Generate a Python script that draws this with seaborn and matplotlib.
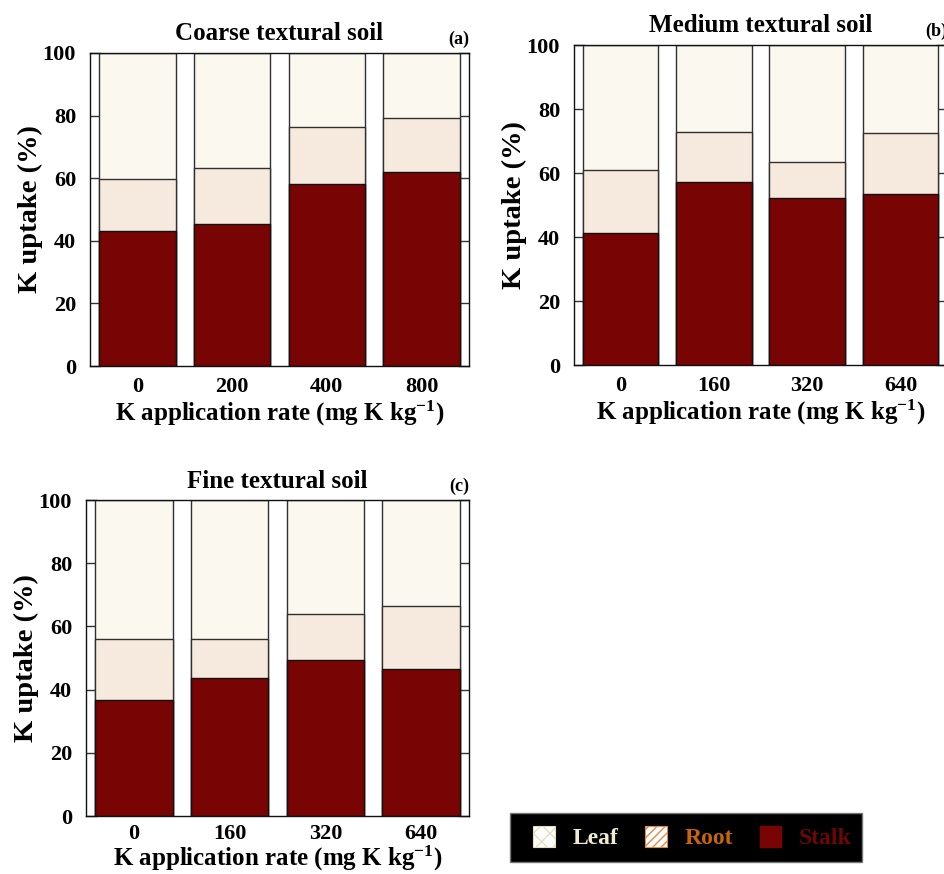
import matplotlib
matplotlib.use("Agg")
import matplotlib.pyplot as plt
from matplotlib.patches import Patch, Rectangle
import numpy as np
import pandas as pd
import seaborn as sns

# K uptake partitioning (%) among plant parts
rates_coarse = ["0", "200", "400", "800"]
stalk_coarse = [43.0, 45.5, 58.0, 62.0]
root_coarse = [16.7, 17.6, 18.4, 17.1]

rates_medium = ["0", "160", "320", "640"]
stalk_medium = [41.3, 57.3, 52.2, 53.4]
root_medium = [19.5, 15.5, 11.1, 19.1]

rates_fine = ["0", "160", "320", "640"]
stalk_fine = [36.7, 43.6, 49.5, 46.5]
root_fine = [19.3, 12.4, 14.5, 20.0]

panel_titles = ["Coarse textural soil", "Medium textural soil", "Fine textural soil"]
panel_tags = ["(a)", "(b)", "(c)"]
part_names = ["Leaf", "Root", "Stalk"]

sns.set_theme(style="white")
plt.rcParams["font.family"] = ["Liberation Serif", "DejaVu Serif"]
plt.rcParams["font.weight"] = "bold"
plt.rcParams["axes.labelweight"] = "bold"
plt.rcParams["axes.titleweight"] = "bold"
plt.rcParams["axes.unicode_minus"] = False
plt.rcParams["mathtext.fontset"] = "custom"
plt.rcParams["mathtext.rm"] = "Liberation Serif:bold"
plt.rcParams["mathtext.bf"] = "Liberation Serif:bold"
plt.rcParams["mathtext.default"] = "bf"
for key in ["text.color", "axes.labelcolor", "xtick.color", "ytick.color"]:
    plt.rcParams[key] = "black"

STALK = "#780404"
ROOT = "#f6eade"
LEAF = "#fbf8ef"

fig = plt.figure(figsize=(9.44, 8.74), dpi=100)
W, H = 944, 874


def px_axes(left, right, top, bottom):
    return fig.add_axes([left / W, (H - bottom) / H, (right - left) / W, (bottom - top) / H])


boxes = [(90, 469, 53, 366), (574, 947, 45, 365), (86, 469, 500, 816)]
datasets = [
    (rates_coarse, stalk_coarse, root_coarse),
    (rates_medium, stalk_medium, root_medium),
    (rates_fine, stalk_fine, root_fine),
]
xpads = [8, 8, 6]
xlabelpads = [1, 1, 0]

for box, (rates, stalk, root), title, tag, xp, xlp in zip(
        boxes, datasets, panel_titles, panel_tags, xpads, xlabelpads):
    ax = px_axes(*box)
    stalk = np.asarray(stalk)
    root = np.asarray(root)
    leaf = 100.0 - stalk - root
    df = pd.DataFrame({
        "rate": rates,
        "leaf_top": stalk + root + leaf,
        "root_top": stalk + root,
        "stalk_top": stalk,
    })
    layers = [("leaf_top", LEAF, "#303030"), ("root_top", ROOT, "#303030"), ("stalk_top", STALK, "#111111")]
    for col, color, edge in layers:
        sns.barplot(data=df, x="rate", y=col, color=color, saturation=1, width=0.81,
                    edgecolor=edge, linewidth=1.0, ax=ax, order=rates, errorbar=None)
    ax.set_xlim(-0.5, 3.5)
    ax.set_ylim(0, 100)
    ax.set_yticks([0, 20, 40, 60, 80, 100])
    ax.tick_params(axis="y", direction="in", length=8, width=1, color="#333333",
                   left=True, right=True, labelsize=16, pad=10)
    ax.tick_params(axis="x", length=0, labelsize=16, pad=xp)
    for lab in ax.get_xticklabels() + ax.get_yticklabels():
        lab.set_fontweight("bold")
    for sp in ax.spines.values():
        sp.set_visible(True)
        sp.set_color("#111111")
        sp.set_linewidth(1.0)
    ax.set_xlabel("K application rate (mg K kg$^{-1}$)", fontsize=18, labelpad=xlp)
    ax.set_ylabel("K uptake (%)", fontsize=20.5, labelpad=0)
    ax.set_title(title, fontsize=18, fontweight="bold", pad=9)
    ax.text(1.0, 1.015, tag, transform=ax.transAxes, ha="right", va="bottom",
            fontsize=13, fontweight="bold")
    ax.grid(False)

# Legend on a black panel
fig.patches.append(Rectangle((510 / W, (H - 862) / H), 352 / W, 49 / H,
                             transform=fig.transFigure, facecolor="black",
                             edgecolor="#777777", linewidth=1.0, zorder=0))
handles = [
    Patch(facecolor="white", edgecolor="#e6dcc2", hatch="xx", linewidth=0.8, label=part_names[0]),
    Patch(facecolor="white", edgecolor="#e08a4a", hatch="////", linewidth=0.8, label=part_names[1]),
    Patch(facecolor=STALK, edgecolor=STALK, label=part_names[2]),
]
leg = fig.legend(handles=handles, loc="center", ncol=3,
                 bbox_to_anchor=(692.5 / W, (H - 837.5) / H),
                 frameon=False, prop={"size": 17, "weight": "bold"},
                 handlelength=0.9, handleheight=1.0, handletextpad=0.75, columnspacing=1.15,
                 borderpad=0.2, labelcolor=["#f0ebd2", "#c8640a", "#6e0606"])

fig.savefig("out.png", dpi=100)
